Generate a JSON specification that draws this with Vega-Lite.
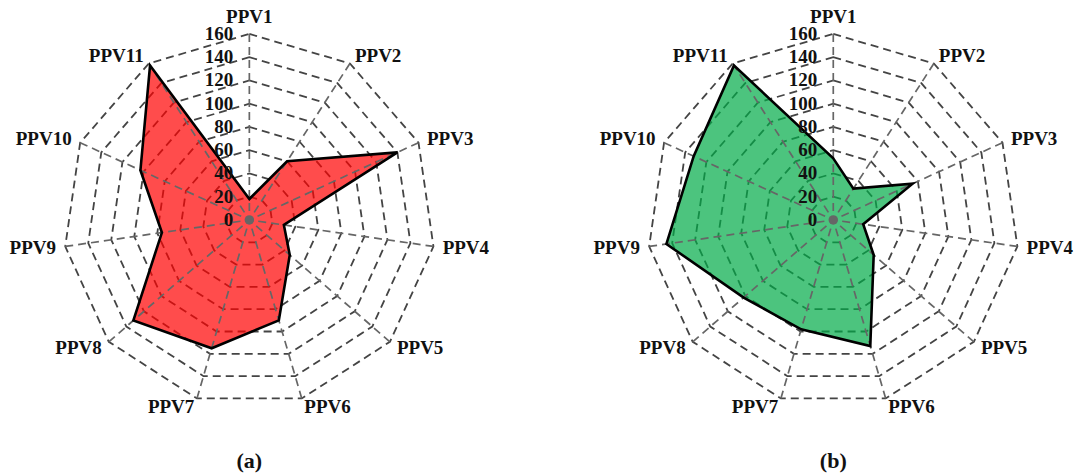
{
  "$schema": "https://vega.github.io/schema/vega-lite/v6.json",
  "background": "white",
  "padding": 0,
  "spacing": 0,
  "bounds": "flush",
  "config": {
    "view": {"stroke": null},
    "text": {"font": "Liberation Serif", "fontWeight": "bold", "fill": "#111"}
  },
  "datasets": {
    "ppv": [
      {"axis": "PPV1", "a": 18, "b": 53},
      {"axis": "PPV2", "a": 60, "b": 32},
      {"axis": "PPV3", "a": 140, "b": 75},
      {"axis": "PPV4", "a": 30, "b": 26},
      {"axis": "PPV5", "a": 46, "b": 46},
      {"axis": "PPV6", "a": 90, "b": 113},
      {"axis": "PPV7", "a": 115, "b": 98},
      {"axis": "PPV8", "a": 132, "b": 102},
      {"axis": "PPV9", "a": 76, "b": 145},
      {"axis": "PPV10", "a": 103, "b": 132},
      {"axis": "PPV11", "a": 158, "b": 158}
    ],
    "levels": [
      {"level": 0}, {"level": 20}, {"level": 40}, {"level": 60}, {"level": 80},
      {"level": 100}, {"level": 120}, {"level": 140}, {"level": 160}
    ],
    "captions": [
      {"panel": "a", "caption": "(a)"},
      {"panel": "b", "caption": "(b)"}
    ]
  },
  "hconcat": [
    {
      "width": 541,
      "height": 474,
      "encoding": {
        "x": {"field": "x", "type": "quantitative", "scale": {"domain": [-214.5, 250.9], "nice": false, "zero": false}, "axis": null},
        "y": {"field": "y", "type": "quantitative", "scale": {"domain": [-218.5, 189.2], "nice": false, "zero": false}, "axis": null}
      },
      "layer": [
        {
          "data": {"name": "levels"},
          "transform": [
            {"filter": "datum.level > 0"},
            {"impute": "v", "key": "axis", "keyvals": ["PPV1", "PPV2", "PPV3", "PPV4", "PPV5", "PPV6", "PPV7", "PPV8", "PPV9", "PPV10", "PPV11"], "groupby": ["level"], "value": 0},
            {"filter": "isValid(datum.axis)"},
            {"calculate": "toNumber(substring(datum.axis, 3))", "as": "k"},
            {"calculate": "2 * PI * (datum.k - 1) / 11", "as": "t"},
            {"calculate": "datum.level * sin(datum.t)", "as": "x"},
            {"calculate": "datum.level * cos(datum.t)", "as": "y"}
          ],
          "mark": {"type": "line", "interpolate": "linear-closed", "stroke": "#444", "strokeWidth": 1.8, "strokeDash": [8, 5]},
          "encoding": {
            "detail": {"field": "level", "type": "nominal"},
            "order": {"field": "k", "type": "quantitative"}
          }
        },
        {
          "data": {"name": "ppv"},
          "transform": [
            {"calculate": "toNumber(substring(datum.axis, 3))", "as": "k"},
            {"calculate": "2 * PI * (datum.k - 1) / 11", "as": "t"},
            {"calculate": "datum.a * sin(datum.t)", "as": "x"},
            {"calculate": "datum.a * cos(datum.t)", "as": "y"}
          ],
          "mark": {"type": "line", "interpolate": "linear-closed", "fill": "#ff0000", "fillOpacity": 0.7, "strokeOpacity": 0},
          "encoding": {"order": {"field": "k", "type": "quantitative"}}
        },
        {
          "data": {"name": "ppv"},
          "transform": [
            {"calculate": "toNumber(substring(datum.axis, 3))", "as": "k"},
            {"calculate": "2 * PI * (datum.k - 1) / 11", "as": "t"},
            {"calculate": "160 * sin(datum.t)", "as": "x"},
            {"calculate": "160 * cos(datum.t)", "as": "y"}
          ],
          "mark": {"type": "rule", "stroke": "#666", "strokeWidth": 1.7, "strokeDash": [8, 5]},
          "encoding": {"x2": {"datum": 0}, "y2": {"datum": 0}}
        },
        {
          "data": {"name": "ppv"},
          "transform": [
            {"calculate": "toNumber(substring(datum.axis, 3))", "as": "k"},
            {"calculate": "2 * PI * (datum.k - 1) / 11", "as": "t"},
            {"calculate": "datum.a * sin(datum.t)", "as": "x"},
            {"calculate": "datum.a * cos(datum.t)", "as": "y"}
          ],
          "mark": {"type": "line", "interpolate": "linear-closed", "stroke": "#000", "strokeWidth": 2.6, "strokeJoin": "miter"},
          "encoding": {"order": {"field": "k", "type": "quantitative"}}
        },
        {
          "data": {"name": "levels"},
          "transform": [
            {"filter": "datum.level == 0"},
            {"calculate": "0", "as": "x"},
            {"calculate": "0", "as": "y"}
          ],
          "mark": {"type": "circle", "size": 90, "color": "#666", "opacity": 1}
        },
        {
          "data": {"name": "levels"},
          "transform": [
            {"calculate": "0", "as": "x"},
            {"calculate": "datum.level", "as": "y"}
          ],
          "mark": {"type": "text", "font": "Liberation Serif", "fontWeight": "bold", "align": "right", "baseline": "middle", "dx": -16, "fontSize": 19},
          "encoding": {"text": {"field": "level", "type": "quantitative"}}
        },
        {
          "data": {"name": "ppv"},
          "transform": [
            {"calculate": "toNumber(substring(datum.axis, 3))", "as": "k"},
            {"filter": "datum.k == 1"},
            {"calculate": "2 * PI * (datum.k - 1) / 11", "as": "t"},
            {"calculate": "175 * sin(datum.t)", "as": "x"},
            {"calculate": "175 * cos(datum.t)", "as": "y"}
          ],
          "mark": {"type": "text", "font": "Liberation Serif", "fontWeight": "bold", "align": "center", "baseline": "middle", "fontSize": 19},
          "encoding": {"text": {"field": "axis"}}
        },
        {
          "data": {"name": "ppv"},
          "transform": [
            {"calculate": "toNumber(substring(datum.axis, 3))", "as": "k"},
            {"filter": "datum.k >= 2 && datum.k <= 6"},
            {"calculate": "2 * PI * (datum.k - 1) / 11", "as": "t"},
            {"calculate": "168 * sin(datum.t)", "as": "x"},
            {"calculate": "168 * cos(datum.t)", "as": "y"}
          ],
          "mark": {"type": "text", "font": "Liberation Serif", "fontWeight": "bold", "align": "left", "baseline": "middle", "fontSize": 19},
          "encoding": {"text": {"field": "axis"}}
        },
        {
          "data": {"name": "ppv"},
          "transform": [
            {"calculate": "toNumber(substring(datum.axis, 3))", "as": "k"},
            {"filter": "datum.k >= 7"},
            {"calculate": "2 * PI * (datum.k - 1) / 11", "as": "t"},
            {"calculate": "168 * sin(datum.t)", "as": "x"},
            {"calculate": "168 * cos(datum.t)", "as": "y"}
          ],
          "mark": {"type": "text", "font": "Liberation Serif", "fontWeight": "bold", "align": "right", "baseline": "middle", "fontSize": 19},
          "encoding": {"text": {"field": "axis"}}
        },
        {
          "data": {"name": "captions"},
          "transform": [
            {"filter": "datum.panel == 'a'"},
            {"calculate": "0", "as": "x"},
            {"calculate": "-207", "as": "y"}
          ],
          "mark": {"type": "text", "font": "Liberation Serif", "fontWeight": "bold", "align": "center", "baseline": "middle", "fontSize": 22},
          "encoding": {"text": {"field": "caption"}}
        }
      ]
    },
    {
      "width": 542,
      "height": 474,
      "encoding": {
        "x": {"field": "x", "type": "quantitative", "scale": {"domain": [-251.4, 214.8], "nice": false, "zero": false}, "axis": null},
        "y": {"field": "y", "type": "quantitative", "scale": {"domain": [-218.5, 189.2], "nice": false, "zero": false}, "axis": null}
      },
      "layer": [
        {
          "data": {"name": "levels"},
          "transform": [
            {"filter": "datum.level > 0"},
            {"impute": "v", "key": "axis", "keyvals": ["PPV1", "PPV2", "PPV3", "PPV4", "PPV5", "PPV6", "PPV7", "PPV8", "PPV9", "PPV10", "PPV11"], "groupby": ["level"], "value": 0},
            {"filter": "isValid(datum.axis)"},
            {"calculate": "toNumber(substring(datum.axis, 3))", "as": "k"},
            {"calculate": "2 * PI * (datum.k - 1) / 11", "as": "t"},
            {"calculate": "datum.level * sin(datum.t)", "as": "x"},
            {"calculate": "datum.level * cos(datum.t)", "as": "y"}
          ],
          "mark": {"type": "line", "interpolate": "linear-closed", "stroke": "#444", "strokeWidth": 1.8, "strokeDash": [8, 5]},
          "encoding": {
            "detail": {"field": "level", "type": "nominal"},
            "order": {"field": "k", "type": "quantitative"}
          }
        },
        {
          "data": {"name": "ppv"},
          "transform": [
            {"calculate": "toNumber(substring(datum.axis, 3))", "as": "k"},
            {"calculate": "2 * PI * (datum.k - 1) / 11", "as": "t"},
            {"calculate": "datum.b * sin(datum.t)", "as": "x"},
            {"calculate": "datum.b * cos(datum.t)", "as": "y"}
          ],
          "mark": {"type": "line", "interpolate": "linear-closed", "fill": "#00ab47", "fillOpacity": 0.7, "strokeOpacity": 0},
          "encoding": {"order": {"field": "k", "type": "quantitative"}}
        },
        {
          "data": {"name": "ppv"},
          "transform": [
            {"calculate": "toNumber(substring(datum.axis, 3))", "as": "k"},
            {"calculate": "2 * PI * (datum.k - 1) / 11", "as": "t"},
            {"calculate": "160 * sin(datum.t)", "as": "x"},
            {"calculate": "160 * cos(datum.t)", "as": "y"}
          ],
          "mark": {"type": "rule", "stroke": "#666", "strokeWidth": 1.7, "strokeDash": [8, 5]},
          "encoding": {"x2": {"datum": 0}, "y2": {"datum": 0}}
        },
        {
          "data": {"name": "ppv"},
          "transform": [
            {"calculate": "toNumber(substring(datum.axis, 3))", "as": "k"},
            {"calculate": "2 * PI * (datum.k - 1) / 11", "as": "t"},
            {"calculate": "datum.b * sin(datum.t)", "as": "x"},
            {"calculate": "datum.b * cos(datum.t)", "as": "y"}
          ],
          "mark": {"type": "line", "interpolate": "linear-closed", "stroke": "#000", "strokeWidth": 2.6, "strokeJoin": "miter"},
          "encoding": {"order": {"field": "k", "type": "quantitative"}}
        },
        {
          "data": {"name": "levels"},
          "transform": [
            {"filter": "datum.level == 0"},
            {"calculate": "0", "as": "x"},
            {"calculate": "0", "as": "y"}
          ],
          "mark": {"type": "circle", "size": 90, "color": "#666", "opacity": 1}
        },
        {
          "data": {"name": "levels"},
          "transform": [
            {"calculate": "0", "as": "x"},
            {"calculate": "datum.level", "as": "y"}
          ],
          "mark": {"type": "text", "font": "Liberation Serif", "fontWeight": "bold", "align": "right", "baseline": "middle", "dx": -16, "fontSize": 19},
          "encoding": {"text": {"field": "level", "type": "quantitative"}}
        },
        {
          "data": {"name": "ppv"},
          "transform": [
            {"calculate": "toNumber(substring(datum.axis, 3))", "as": "k"},
            {"filter": "datum.k == 1"},
            {"calculate": "2 * PI * (datum.k - 1) / 11", "as": "t"},
            {"calculate": "175 * sin(datum.t)", "as": "x"},
            {"calculate": "175 * cos(datum.t)", "as": "y"}
          ],
          "mark": {"type": "text", "font": "Liberation Serif", "fontWeight": "bold", "align": "center", "baseline": "middle", "fontSize": 19},
          "encoding": {"text": {"field": "axis"}}
        },
        {
          "data": {"name": "ppv"},
          "transform": [
            {"calculate": "toNumber(substring(datum.axis, 3))", "as": "k"},
            {"filter": "datum.k >= 2 && datum.k <= 6"},
            {"calculate": "2 * PI * (datum.k - 1) / 11", "as": "t"},
            {"calculate": "168 * sin(datum.t)", "as": "x"},
            {"calculate": "168 * cos(datum.t)", "as": "y"}
          ],
          "mark": {"type": "text", "font": "Liberation Serif", "fontWeight": "bold", "align": "left", "baseline": "middle", "fontSize": 19},
          "encoding": {"text": {"field": "axis"}}
        },
        {
          "data": {"name": "ppv"},
          "transform": [
            {"calculate": "toNumber(substring(datum.axis, 3))", "as": "k"},
            {"filter": "datum.k >= 7"},
            {"calculate": "2 * PI * (datum.k - 1) / 11", "as": "t"},
            {"calculate": "168 * sin(datum.t)", "as": "x"},
            {"calculate": "168 * cos(datum.t)", "as": "y"}
          ],
          "mark": {"type": "text", "font": "Liberation Serif", "fontWeight": "bold", "align": "right", "baseline": "middle", "fontSize": 19},
          "encoding": {"text": {"field": "axis"}}
        },
        {
          "data": {"name": "captions"},
          "transform": [
            {"filter": "datum.panel == 'b'"},
            {"calculate": "0", "as": "x"},
            {"calculate": "-207", "as": "y"}
          ],
          "mark": {"type": "text", "font": "Liberation Serif", "fontWeight": "bold", "align": "center", "baseline": "middle", "fontSize": 22},
          "encoding": {"text": {"field": "caption"}}
        }
      ]
    }
  ]
}
